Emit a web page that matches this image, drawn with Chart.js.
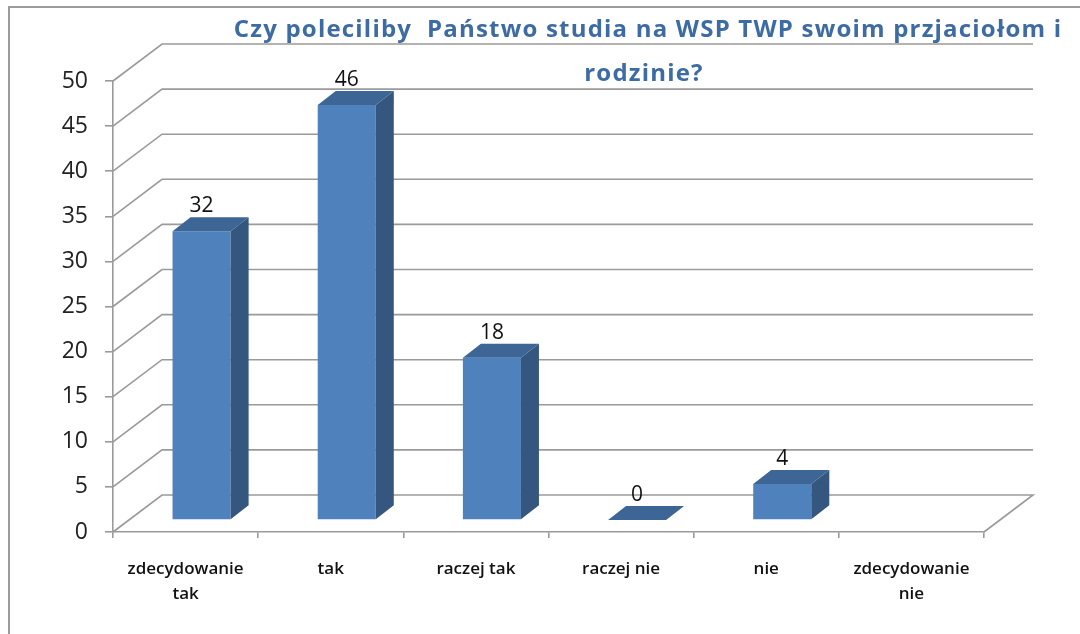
<!DOCTYPE html>
<html lang="pl">
<head>
<meta charset="UTF-8">
<title>Czy poleciliby Państwo studia na WSP TWP</title>
<script src="https://cdn.jsdelivr.net/npm/chart.js"></script>
<style>
  html, body { margin: 0; padding: 0; background: #fff; }
  #box { width: 1080px; height: 634px; }
</style>
</head>
<body>
<div id="box"><canvas id="wykres" width="1080" height="634"></canvas></div>

<script>
    // dane
    const tytul = ['Czy poleciliby  Państwo studia na WSP TWP swoim przjaciołom i', 'rodzinie?'];
    const kategorie = [['zdecydowanie', 'tak'], 'tak', 'raczej tak', 'raczej nie', 'nie', ['zdecydowanie', 'nie']];
    const odpowiedzi = [32, 46, 18, 0, 4, null];
    const podzialkaY = [0, 5, 10, 15, 20, 25, 30, 35, 40, 45, 50];

    // efekt 3D (przesuniecia w pikselach)
    const sciana = { dx: 49, dy: -37 };
    const wGlab = { dx: 16, dy: -12 };
    const bryla = { dx: 18, dy: -14 };
    const szary = '#9a9a9a';

    const trojwymiar = {
        id: 'trojwymiar',
        beforeDraw(chart) {
            const ctx = chart.ctx;
            ctx.save();
            ctx.strokeStyle = '#9c9c9c';
            ctx.lineWidth = 2;
            ctx.beginPath();
            ctx.moveTo(9, 640);
            ctx.lineTo(9, 7);
            ctx.lineTo(1085, 7);
            ctx.stroke();
            ctx.restore();
        },
        beforeDatasetsDraw(chart) {
            const { ctx, chartArea: a, scales: { y } } = chart;
            ctx.save();
            ctx.strokeStyle = szary;
            ctx.lineWidth = 1.6;
            y.ticks.forEach(t => {
                const py = y.getPixelForValue(t.value);
                ctx.beginPath();
                ctx.moveTo(a.left, py);
                ctx.lineTo(a.left + sciana.dx, py + sciana.dy);
                ctx.lineTo(a.right + sciana.dx, py + sciana.dy);
                if (t.value === 0) ctx.lineTo(a.right, py);
                ctx.stroke();
            });
            ctx.restore();
            ctx.save();
            ctx.translate(wGlab.dx, wGlab.dy);
        },
        afterDatasetsDraw(chart) {
            const ctx = chart.ctx;
            ctx.restore();
            const meta = chart.getDatasetMeta(0);
            meta.data.forEach((bar, i) => {
                if (odpowiedzi[i] === null) return;
                const p = bar.getProps(['x', 'y', 'base', 'width'], true);
                const L = p.x - p.width / 2 + wGlab.dx;
                const R = p.x + p.width / 2 + wGlab.dx;
                const T = p.y + wGlab.dy;
                const B = p.base + wGlab.dy;
                ctx.save();
                // bok
                ctx.fillStyle = '#34567f';
                ctx.beginPath();
                ctx.moveTo(R, T);
                ctx.lineTo(R + bryla.dx, T + bryla.dy);
                ctx.lineTo(R + bryla.dx, B + bryla.dy);
                ctx.lineTo(R, B);
                ctx.closePath();
                ctx.fill();
                // gora
                ctx.fillStyle = '#3d6596';
                ctx.beginPath();
                ctx.moveTo(L, T);
                ctx.lineTo(L + bryla.dx, T + bryla.dy);
                ctx.lineTo(R + bryla.dx, T + bryla.dy);
                ctx.lineTo(R, T);
                ctx.closePath();
                ctx.fill();
                // etykieta
                ctx.fillStyle = '#111';
                ctx.font = '21px "Open Sans"';
                ctx.textAlign = 'center';
                ctx.textBaseline = 'alphabetic';
                ctx.fillText(String(odpowiedzi[i]), (L + R) / 2, T + bryla.dy - 5);
                ctx.restore();
            });
        },
        afterDraw(chart) {
            const ctx = chart.ctx;
            ctx.save();
            ctx.fillStyle = '#3d6ba3';
            ctx.font = 'bold 24px "Open Sans"';
            ctx.letterSpacing = '1.2px';
            ctx.textAlign = 'center';
            ctx.fillText(tytul[0], 648, 37);
            ctx.fillText(tytul[1], 644, 81);
            ctx.restore();
        }
    };

    const ctx = document.getElementById('wykres').getContext('2d');
    const wykres = new Chart(ctx, {
        type: 'bar',
        data: {
            labels: kategorie,
            datasets: [{
                data: odpowiedzi,
                backgroundColor: '#4f81bd',
                borderWidth: 0,
                barPercentage: 0.4,
                categoryPercentage: 1
            }]
        },
        options: {
            responsive: false,
            animation: false,
            devicePixelRatio: 1,
            layout: { padding: { left: 0, top: 81, right: 96, bottom: 0 } },
            plugins: {
                legend: { display: false },
                tooltip: { enabled: false }
            },
            scales: {
                x: {
                    grid: { drawOnChartArea: false, tickLength: 6, color: szary, lineWidth: 1.6 },
                    border: { color: szary, width: 1.6 },
                    ticks: {
                        color: '#111',
                        font: { family: 'Open Sans', size: 17, weight: '600', lineHeight: 1.45 },
                        padding: 19,
                        maxRotation: 0,
                        autoSkip: false
                    },
                    afterFit(s) { s.height = 102; }
                },
                y: {
                    min: podzialkaY[0],
                    max: podzialkaY[podzialkaY.length - 1],
                    afterBuildTicks(s) { s.ticks = podzialkaY.map(v => ({ value: v })); },
                    grid: { drawOnChartArea: false, tickLength: 8, color: szary, lineWidth: 1.6 },
                    border: { color: szary, width: 1.6 },
                    ticks: {
                        color: '#222',
                        font: { family: 'Open Sans', size: 23 },
                        padding: 17
                    },
                    afterFit(s) { s.width = 113; }
                }
            }
        },
        plugins: [trojwymiar]
    });
</script>
</body>
</html>
